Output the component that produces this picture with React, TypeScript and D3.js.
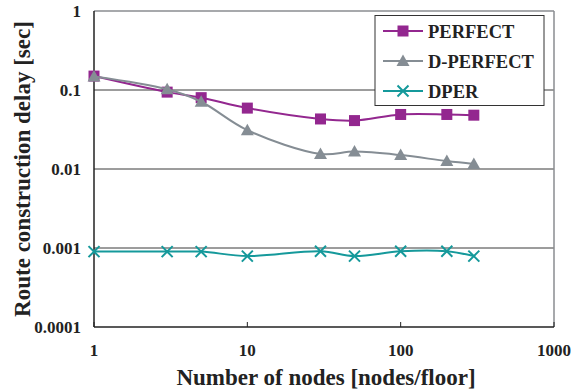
import React from "react";
import * as d3 from "d3";

const nodes = [1, 3, 5, 10, 30, 50, 100, 200, 300];
const perfect = [0.15, 0.094, 0.08, 0.059, 0.043, 0.041, 0.049, 0.049, 0.048];
const dPerfect = [0.148, 0.102, 0.071, 0.031, 0.0155, 0.0166, 0.015, 0.0126, 0.0116];
const dper = [0.0009, 0.0009, 0.0009, 0.00079, 0.00091, 0.00079, 0.00091, 0.00091, 0.00079];

const xTicks = [1, 10, 100, 1000];
const yTicks = [0.0001, 0.001, 0.01, 0.1, 1];
const yTickLabels = ["0.0001", "0.001", "0.01", "0.1", "1"];

const seriesNames = ["PERFECT", "D-PERFECT", "DPER"];
const seriesColors = ["#93278f", "#858d94", "#15999b"];

const W = 573;
const H = 390;
const margin = { left: 94, right: 19, top: 11, bottom: 63 };
const font = "'Liberation Serif', 'Times New Roman', serif";

const marker = (kind: number, color: string, key: string) => {
  if (kind === 0) return <rect key={key} x={-5.5} y={-5.5} width={11} height={11} fill={color} />;
  if (kind === 1) return <path key={key} d="M0,-6.5L6.5,5L-6.5,5Z" fill={color} />;
  return (
    <path key={key} d="M-5.5,-5.5L5.5,5.5M5.5,-5.5L-5.5,5.5" stroke={color} strokeWidth={2} fill="none" />
  );
};

export default function App() {
  const x = d3.scaleLog().domain([1, 1000]).range([margin.left, W - margin.right]);
  const y = d3.scaleLog().domain([0.0001, 1]).range([H - margin.bottom, margin.top]);
  const line = d3
    .line<[number, number]>()
    .x((d) => x(d[0]))
    .y((d) => y(d[1]))
    .curve(d3.curveCatmullRom.alpha(0.5));

  const series = [perfect, dPerfect, dper];
  const [x0, x1] = x.range();
  const [yb, yt] = y.range();

  return (
    <svg width={W} height={H} style={{ position: "absolute", left: 0, top: 0 }} fontFamily={font} fontWeight="bold">
      <rect width={W} height={H} fill="#fff" />
      {/* gridlines */}
      {yTicks.slice(1, -1).map((t) => (
        <line key={t} x1={x0} x2={x1} y1={y(t)} y2={y(t)} stroke="#3a3a3a" strokeWidth={1} />
      ))}
      {/* top / right border */}
      <line x1={x0} x2={x1} y1={yt} y2={yt} stroke="#8a8d90" strokeWidth={1.5} />
      <line x1={x1} x2={x1} y1={yt} y2={yb} stroke="#8a8d90" strokeWidth={1.5} />
      {/* axes */}
      <line x1={x0} x2={x0} y1={yt} y2={yb} stroke="#222" strokeWidth={1.5} />
      <line x1={x0} x2={x1} y1={yb} y2={yb} stroke="#222" strokeWidth={1.5} />
      {xTicks.map((t) => (
        <g key={t}>
          <line x1={x(t)} x2={x(t)} y1={yb} y2={yb - 5} stroke="#222" strokeWidth={1} />
          <text x={x(t)} y={yb + 29} textAnchor="middle" fontSize={17} fill="#222">
            {t}
          </text>
        </g>
      ))}
      {yTicks.map((t, i) => (
        <text key={t} x={x0 - 13} y={y(t) + 6} textAnchor="end" fontSize={17} fill="#222">
          {yTickLabels[i]}
        </text>
      ))}
      {/* series */}
      {series.map((vals, si) => {
        const pts = nodes.map((n, i) => [n, vals[i]] as [number, number]);
        return (
          <g key={si}>
            <path d={line(pts) || ""} fill="none" stroke={seriesColors[si]} strokeWidth={2} />
            {pts.map((p, i) => (
              <g key={i} transform={`translate(${x(p[0])},${y(p[1])})`}>
                {marker(si, seriesColors[si], `m${i}`)}
              </g>
            ))}
          </g>
        );
      })}
      {/* legend */}
      <rect x={375} y={15.5} width={169} height={90} fill="#fff" stroke="#333" strokeWidth={1} />
      {seriesNames.map((name, i) => (
        <g key={name} transform={`translate(0,${31 + i * 30})`}>
          <line x1={383} x2={423} y1={0} y2={0} stroke={seriesColors[i]} strokeWidth={2} />
          <g transform="translate(403,0)">{marker(i, seriesColors[i], "l")}</g>
          <text x={428} y={6.5} fontSize={18.5} fill="#222">
            {name}
          </text>
        </g>
      ))}
      {/* axis titles */}
      <text x={(x0 + x1) / 2 + 2} y={385} textAnchor="middle" fontSize={23} fill="#222">
        Number of nodes [nodes/floor]
      </text>
      <text
        transform={`translate(30,${(yt + yb) / 2}) rotate(-90)`}
        textAnchor="middle"
        fontSize={23}
        fill="#222"
      >
        Route construction delay [sec]
      </text>
    </svg>
  );
}
